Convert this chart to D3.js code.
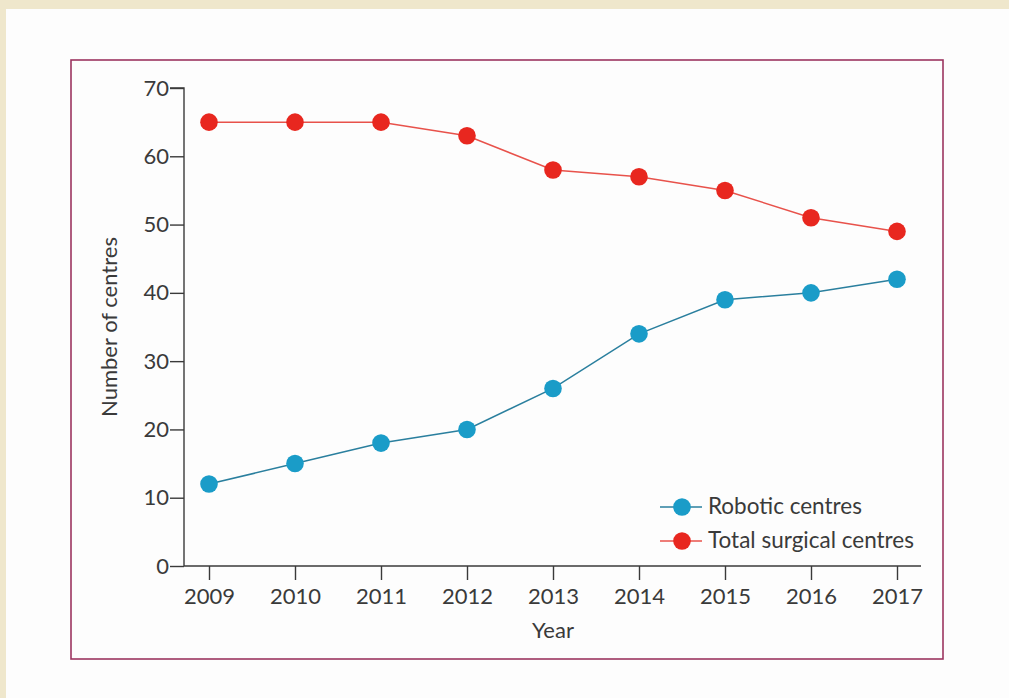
<!DOCTYPE html>
<html>
<head>
<meta charset="utf-8">
<script src="https://cdn.jsdelivr.net/npm/d3@7"></script>
<style>
  html, body { margin: 0; padding: 0; background: #efe7cc; }
  svg { display: block; }
  text { font-family: Lato, "Open Sans", sans-serif; fill: #3a3a3a; }
</style>
</head>
<body>
<div id="chart"></div>
<script>
'use strict';

// data
const years = [2009, 2010, 2011, 2012, 2013, 2014, 2015, 2016, 2017];
const robotic = [12, 15, 18, 20, 26, 34, 39, 40, 42];
const totalSurgical = [65, 65, 65, 63, 58, 57, 55, 51, 49];
const yTicks = [0, 10, 20, 30, 40, 50, 60, 70];
const seriesNames = ['Robotic centres', 'Total surgical centres'];

const width = 1009;
const height = 698;

const svg = d3.select('#chart')
  .append('svg')
  .attr('width', width)
  .attr('height', height);

// white page panel + magenta frame
svg.append('rect')
  .attr('x', 6).attr('y', 9)
  .attr('width', width - 6).attr('height', height - 9)
  .attr('fill', '#fdfdfd');

svg.append('rect')
  .attr('x', 71).attr('y', 60)
  .attr('width', 872).attr('height', 599)
  .attr('fill', 'none')
  .attr('stroke', '#9c3560')
  .attr('stroke-width', 1.6);

// scales
const x = d3.scalePoint().domain(years).range([209, 897]);
const y = d3.scaleLinear().domain([0, 70]).range([566, 88]);

// y axis
const yAxis = d3.axisLeft(y).tickValues(yTicks).tickSize(14).tickPadding(1);
const gy = svg.append('g').attr('transform', 'translate(184,0)').call(yAxis);
gy.select('.domain').attr('d', `M-14,${y(70)}H0V${y(0)}`);

// x axis
const xAxis = d3.axisBottom(x).tickSize(14).tickPadding(8).tickFormat(d3.format('d'));
const gx = svg.append('g').attr('transform', `translate(0,${y(0)})`).call(xAxis);
gx.select('.domain').attr('d', `M184,0H921`);

svg.selectAll('.domain, .tick line').attr('stroke', '#3a3a3a').attr('stroke-width', 1.4);
svg.selectAll('.tick text')
  .attr('font-size', 22)
  .attr('fill', '#3a3a3a');

// axis titles
svg.append('text')
  .attr('x', x(2013)).attr('y', 638)
  .attr('text-anchor', 'middle')
  .attr('font-size', 22)
  .text('Year');

svg.append('text')
  .attr('transform', `translate(117,${y(35)}) rotate(-90)`)
  .attr('text-anchor', 'middle')
  .attr('font-size', 22)
  .text('Number of centres');

// series
const series = [
  { name: seriesNames[0], values: robotic, dot: '#1a9cc8', line: '#2a7f9e' },
  { name: seriesNames[1], values: totalSurgical, dot: '#e8271f', line: '#e8524b' }
];

const line = d3.line()
  .x((d, i) => x(years[i]))
  .y(d => y(d));

series.forEach(s => {
  svg.append('path')
    .datum(s.values)
    .attr('d', line)
    .attr('fill', 'none')
    .attr('stroke', s.line)
    .attr('stroke-width', 1.5);

  svg.selectAll(null)
    .data(s.values)
    .enter()
    .append('circle')
    .attr('cx', (d, i) => x(years[i]))
    .attr('cy', d => y(d))
    .attr('r', 8.8)
    .attr('fill', s.dot);
});

// legend
const legend = svg.append('g').attr('transform', 'translate(660,507)');
series.forEach((s, i) => {
  const g = legend.append('g').attr('transform', `translate(0,${i * 34})`);
  g.append('line')
    .attr('x1', 0).attr('x2', 42)
    .attr('stroke', s.line).attr('stroke-width', 1.5);
  g.append('circle').attr('cx', 22).attr('r', 8.8).attr('fill', s.dot);
  g.append('text')
    .attr('x', 48).attr('y', 7)
    .attr('font-size', 22.5)
    .text(s.name);
});
</script>
</body>
</html>
